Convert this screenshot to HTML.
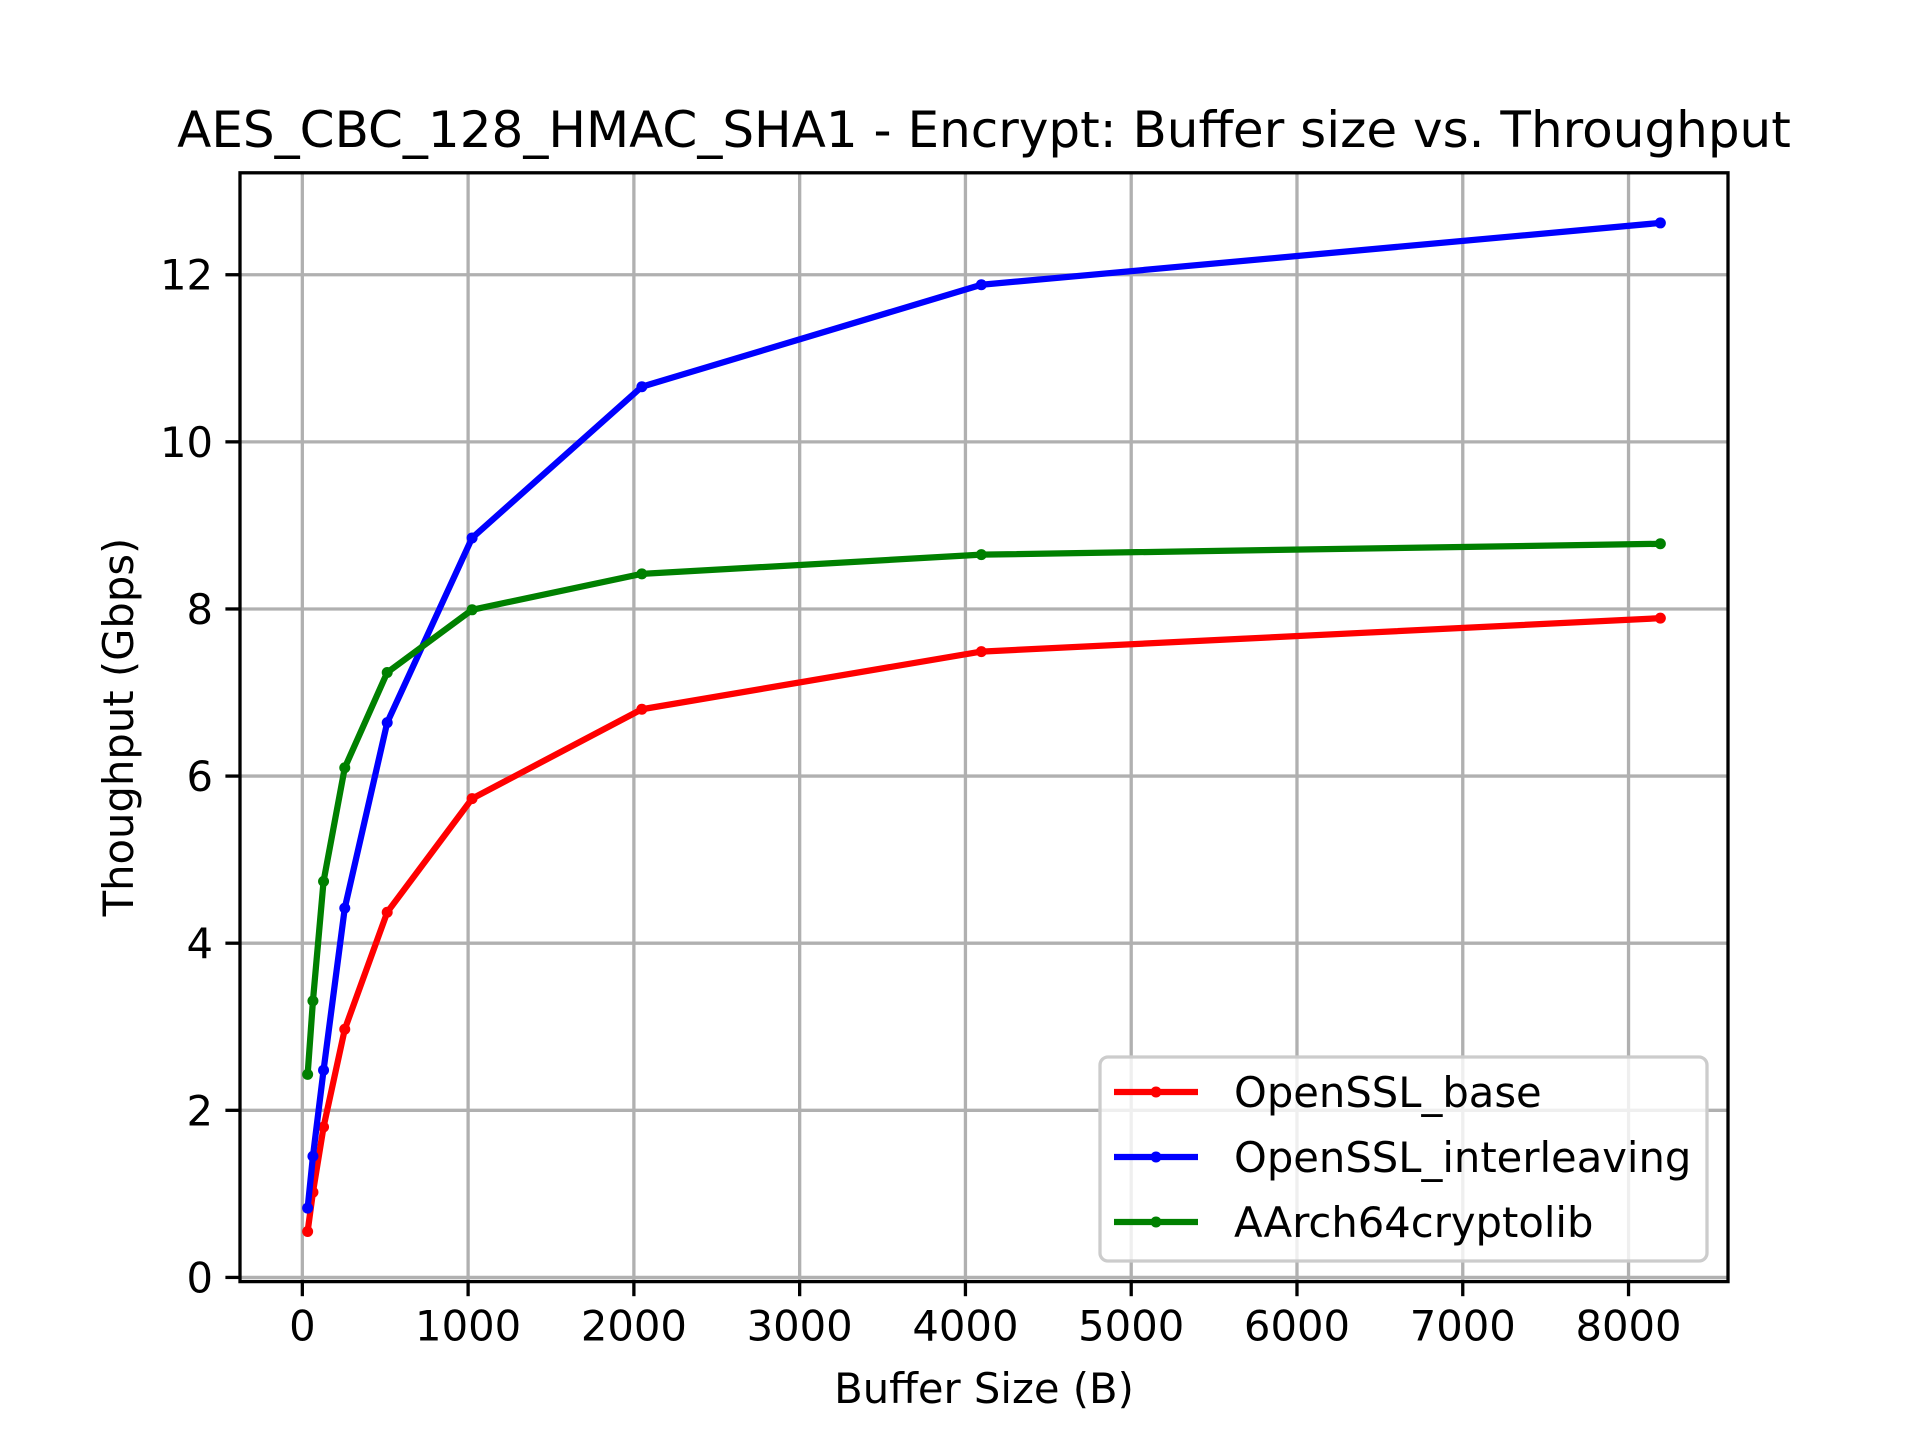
<!DOCTYPE html>
<html><head><meta charset="utf-8"><style>
html,body{margin:0;padding:0;background:#fff;}
svg{display:block;font-family:"DejaVu Sans","Liberation Sans",sans-serif;}
</style></head><body>
<svg id="chart" width="1920" height="1440" viewBox="0 0 1920 1440">
<rect width="1920" height="1440" fill="#fff"/>
<g id="grid"></g>
<g id="series"></g>
<g id="axes"></g>
<text x="984" y="147" text-anchor="middle" font-size="50">AES_CBC_128_HMAC_SHA1 - Encrypt: Buffer size vs. Throughput</text>
<text x="984" y="1403" text-anchor="middle" font-size="41.7">Buffer Size (B)</text>
<text transform="translate(133,727) rotate(-90)" text-anchor="middle" font-size="41.7">Thoughput (Gbps)</text>
<g id="legend"></g>
</svg>
<script>
const bufferSizes=[32,64,128,256,512,1024,2048,4096,8192];
const opensslBase=[0.55,1.02,1.8,2.97,4.37,5.73,6.8,7.49,7.89];
const opensslInterleaving=[0.83,1.45,2.48,4.42,6.64,8.85,10.66,11.88,12.62];
const aarch64cryptolib=[2.43,3.31,4.74,6.1,7.24,7.99,8.42,8.65,8.78];
const seriesNames=["OpenSSL_base","OpenSSL_interleaving","AArch64cryptolib"];
const xTicks=[0,1000,2000,3000,4000,5000,6000,7000,8000];
const yTicks=[0,2,4,6,8,10,12];

const L=240,R=1728,T=172.8,B=1281.6;
const xmin=-376,xmax=8600,ymin=-0.05,ymax=13.22;
const xs=v=>L+(v-xmin)/(xmax-xmin)*(R-L);
const ys=v=>B-(v-ymin)/(ymax-ymin)*(B-T);
const NS="http://www.w3.org/2000/svg";
function mk(tag,attrs,parent){const e=document.createElementNS(NS,tag);for(const k in attrs)e.setAttribute(k,attrs[k]);parent.appendChild(e);return e;}
const grid=document.getElementById('grid'),axes=document.getElementById('axes'),ser=document.getElementById('series'),leg=document.getElementById('legend');

xTicks.forEach(t=>{
  const x=xs(t);
  const g=mk('line',{x1:x,x2:x,y1:T,y2:B,stroke:'#b0b0b0','stroke-width':3.3},grid);
  
  
  const tk=mk('line',{x1:x,x2:x,y1:B,y2:B+14.6,stroke:'#000','stroke-width':3.3},axes);
  
  
  const lb=mk('text',{x:x,y:B+59,'text-anchor':'middle','font-size':41.7},axes);
  lb.textContent=t;
  
  
});
yTicks.forEach(t=>{
  const y=ys(t);
  const g=mk('line',{x1:L,x2:R,y1:y,y2:y,stroke:'#b0b0b0','stroke-width':3.3},grid);
  
  
  const tk=mk('line',{x1:L-14.6,x2:L,y1:y,y2:y,stroke:'#000','stroke-width':3.3},axes);
  
  
  const lb=mk('text',{x:L-27,y:y+15,'text-anchor':'end','font-size':41.7},axes);
  lb.textContent=t;
  
  
});
const frame=mk('rect',{x:L,y:T,width:R-L,height:B-T,fill:'none',stroke:'#000','stroke-width':3.3},axes);



const allSeries=[opensslBase,opensslInterleaving,aarch64cryptolib];
const colors=['#ff0000','#0000ff','#008000'];
allSeries.forEach((vals,i)=>{
  const pts=vals.map((v,j)=>xs(bufferSizes[j])+','+ys(v)).join(' ');
  const pl=mk('polyline',{points:pts,fill:'none',stroke:colors[i],'stroke-width':6.25,'stroke-linejoin':'round','stroke-linecap':'square'},ser);
  
  
  vals.forEach((v,j)=>{
    const c=mk('circle',{cx:xs(bufferSizes[j]),cy:ys(v),r:5.5,fill:colors[i]},ser);
    
    
  });
});

const lbox=mk('rect',{x:1100,y:1057,width:607,height:204,rx:8,fill:'#fff','fill-opacity':0.8,stroke:'#cccccc','stroke-width':3.3},leg);


seriesNames.forEach((n,i)=>{
  const y=1092+i*65;
  const ln=mk('line',{x1:1114,x2:1198,y1:y,y2:y,stroke:colors[i],'stroke-width':6.25},leg);
  
  
  const c=mk('circle',{cx:1156,cy:y,r:5.5,fill:colors[i]},leg);
  
  
  const t=mk('text',{x:1234,y:y+15,'font-size':41.7},leg);
  t.textContent=n;
  
  
});
</script>
</body></html>
